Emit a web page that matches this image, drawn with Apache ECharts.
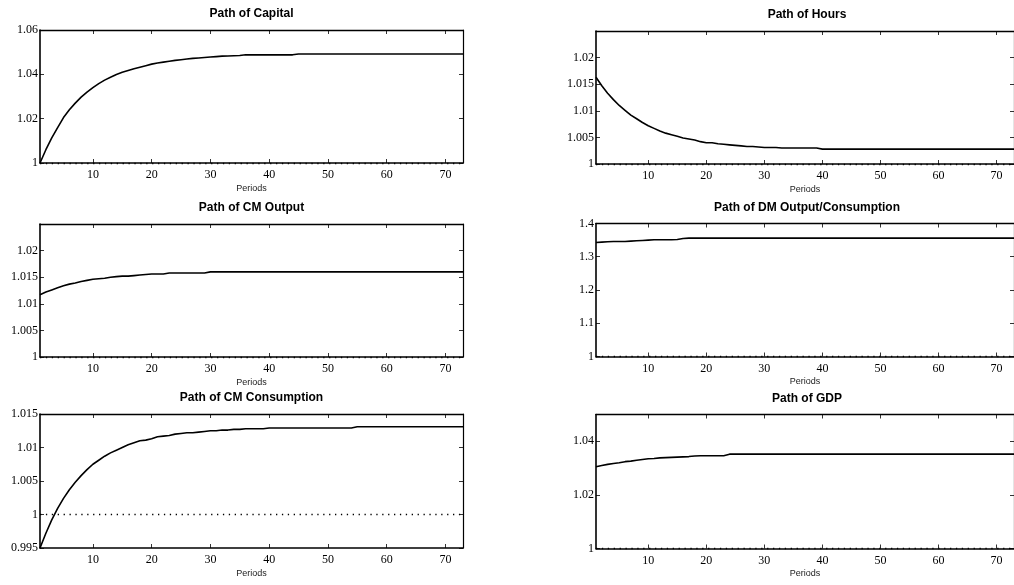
<!DOCTYPE html>
<html><head><meta charset="utf-8">
<script src="https://cdn.jsdelivr.net/npm/echarts@6/dist/echarts.min.js"></script>
<style>html,body{margin:0;padding:0;background:#fff}#c{width:1014px;height:585px}</style>
</head><body><div id="c"></div>
<script>
const periods = Array.from({length: 73}, (_, i) => i + 1);
const xTickLabels = [10, 20, 30, 40, 50, 60, 70];

const titles = ['Path of Capital', 'Path of Hours', 'Path of CM Output', 'Path of DM Output/Consumption', 'Path of CM Consumption', 'Path of GDP'];
const xName = 'Periods';

const capital = [1.0000,1.0060,1.0113,1.0160,1.0205,1.0240,1.0270,1.0297,1.0320,1.0340,1.0358,1.0374,1.0387,1.0399,1.0409,1.0417,1.0425,1.0432,1.0439,1.0446,1.0451,1.0455,1.0459,1.0463,1.0466,1.0469,1.0472,1.0474,1.0476,1.0478,1.0480,1.0482,1.0483,1.0484,1.0485,1.0488,1.0488,1.0488,1.0488,1.0488,1.0488,1.0488,1.0488,1.0488,1.0492,1.0492,1.0492,1.0492,1.0492,1.0492,1.0492,1.0492,1.0492,1.0492,1.0492,1.0492,1.0492,1.0492,1.0492,1.0492,1.0492,1.0492,1.0492,1.0492,1.0492,1.0492,1.0492,1.0492,1.0492,1.0492,1.0492,1.0492,1.0492];
const hours = [1.0163,1.0147,1.0133,1.0121,1.0110,1.0101,1.0092,1.0085,1.0078,1.0072,1.0067,1.0062,1.0058,1.0055,1.0052,1.0049,1.0047,1.0045,1.0042,1.0040,1.0040,1.0038,1.0037,1.0036,1.0035,1.0034,1.0033,1.0033,1.0032,1.0031,1.0031,1.0031,1.0030,1.0030,1.0030,1.0030,1.0030,1.0030,1.0030,1.0028,1.0028,1.0028,1.0028,1.0028,1.0028,1.0028,1.0028,1.0028,1.0028,1.0028,1.0028,1.0028,1.0028,1.0028,1.0028,1.0028,1.0028,1.0028,1.0028,1.0028,1.0028,1.0028,1.0028,1.0028,1.0028,1.0028,1.0028,1.0028,1.0028,1.0028,1.0028,1.0028,1.0028];
const cmOutput = [1.0117,1.0122,1.0126,1.0130,1.0134,1.0137,1.0139,1.0142,1.0144,1.0146,1.0147,1.0148,1.0150,1.0151,1.0152,1.0152,1.0153,1.0154,1.0155,1.0156,1.0156,1.0156,1.0158,1.0158,1.0158,1.0158,1.0158,1.0158,1.0158,1.0160,1.0160,1.0160,1.0160,1.0160,1.0160,1.0160,1.0160,1.0160,1.0160,1.0160,1.0160,1.0160,1.0160,1.0160,1.0160,1.0160,1.0160,1.0160,1.0160,1.0160,1.0160,1.0160,1.0160,1.0160,1.0160,1.0160,1.0160,1.0160,1.0160,1.0160,1.0160,1.0160,1.0160,1.0160,1.0160,1.0160,1.0160,1.0160,1.0160,1.0160,1.0160,1.0160,1.0160];
const dmOutput = [1.343,1.344,1.345,1.346,1.346,1.346,1.347,1.348,1.349,1.350,1.351,1.351,1.351,1.351,1.352,1.355,1.356,1.356,1.356,1.356,1.356,1.356,1.356,1.356,1.356,1.356,1.356,1.356,1.356,1.356,1.356,1.356,1.356,1.356,1.356,1.356,1.356,1.356,1.356,1.356,1.356,1.356,1.356,1.356,1.356,1.356,1.356,1.356,1.356,1.356,1.356,1.356,1.356,1.356,1.356,1.356,1.356,1.356,1.356,1.356,1.356,1.356,1.356,1.356,1.356,1.356,1.356,1.356,1.356,1.356,1.356,1.356,1.356];
const cmConsumption = [0.9950,0.9972,0.9992,1.0009,1.0024,1.0037,1.0048,1.0058,1.0067,1.0075,1.0081,1.0087,1.0092,1.0096,1.0100,1.0104,1.0107,1.0110,1.0111,1.0113,1.0116,1.0117,1.0118,1.0120,1.0121,1.0122,1.0122,1.0123,1.0124,1.0125,1.0125,1.0126,1.0126,1.0127,1.0127,1.0128,1.0128,1.0128,1.0128,1.0129,1.0129,1.0129,1.0129,1.0129,1.0129,1.0129,1.0129,1.0129,1.0129,1.0129,1.0129,1.0129,1.0129,1.0129,1.0131,1.0131,1.0131,1.0131,1.0131,1.0131,1.0131,1.0131,1.0131,1.0131,1.0131,1.0131,1.0131,1.0131,1.0131,1.0131,1.0131,1.0131,1.0131];
const gdp = [1.0305,1.0310,1.0314,1.0317,1.0320,1.0324,1.0326,1.0329,1.0332,1.0335,1.0336,1.0338,1.0339,1.0340,1.0341,1.0342,1.0343,1.0345,1.0346,1.0346,1.0346,1.0346,1.0346,1.0352,1.0352,1.0352,1.0352,1.0352,1.0352,1.0352,1.0352,1.0352,1.0352,1.0352,1.0352,1.0352,1.0352,1.0352,1.0352,1.0352,1.0352,1.0352,1.0352,1.0352,1.0352,1.0352,1.0352,1.0352,1.0352,1.0352,1.0352,1.0352,1.0352,1.0352,1.0352,1.0352,1.0352,1.0352,1.0352,1.0352,1.0352,1.0352,1.0352,1.0352,1.0352,1.0352,1.0352,1.0352,1.0352,1.0352,1.0352,1.0352,1.0352];

const seriesList = [capital, hours, cmOutput, dmOutput, cmConsumption, gdp];
const yMin = [1, 1, 1, 1, 0.995, 1];
const yMax = [1.06, 1.025, 1.025, 1.4, 1.015, 1.05];
const yStep = [0.02, 0.005, 0.005, 0.1, 0.005, 0.02];
const yShowMax = [true, false, false, true, true, false];
const refLevel = 1;

const grids = [
  {left: 40, top: 30, width: 423, height: 133},
  {left: 596, top: 31, width: 422, height: 133},
  {left: 40, top: 224, width: 423, height: 133},
  {left: 596, top: 223.5, width: 422, height: 133},
  {left: 40, top: 414, width: 423, height: 134},
  {left: 596, top: 414.5, width: 422, height: 134}
];

const tickShow = (i, v) => xTickLabels.indexOf(Number(v)) >= 0;
const lineC = '#000';
const serif = 'Liberation Serif';

const option = {
  animation: false,
  backgroundColor: '#fff',
  title: [], grid: [], xAxis: [], yAxis: [], series: []
};

grids.forEach((g, i) => {
  option.grid.push(Object.assign({containLabel: false}, g));
  option.title.push({
    text: titles[i], left: g.left + g.width / 2, top: g.top - 22, textAlign: 'center', padding: 0,
    textStyle: {fontFamily: 'Liberation Sans', fontSize: 12, fontWeight: 'bold', color: '#000'}
  });
  option.xAxis.push({
    type: 'category', data: periods, gridIndex: i, boundaryGap: false, position: 'bottom',
    name: xName, nameLocation: 'middle', nameGap: 21,
    nameTextStyle: {fontFamily: 'Liberation Sans', fontSize: 9, color: '#222'},
    axisLine: {lineStyle: {color: lineC, width: 1.5}},
    axisTick: {inside: true, length: 4, interval: tickShow, lineStyle: {color: lineC, width: 0.8}},
    axisLabel: {interval: tickShow, margin: 6, fontFamily: serif, fontSize: 12, color: '#000'},
    splitLine: {show: false}
  });
  option.xAxis.push({
    type: 'category', data: periods, gridIndex: i, boundaryGap: false, position: 'top',
    axisLine: {lineStyle: {color: lineC, width: 1.4}},
    axisTick: {inside: true, length: 4, interval: tickShow, lineStyle: {color: lineC, width: 0.8}},
    axisLabel: {show: false}, splitLine: {show: false}
  });
  option.yAxis.push({
    type: 'value', gridIndex: i, min: yMin[i], max: yMax[i], interval: yStep[i], position: 'left',
    axisLine: {show: true, lineStyle: {color: lineC, width: 1.6}},
    axisTick: {show: true, inside: true, length: 4, lineStyle: {color: lineC, width: 0.8}},
    axisLabel: {margin: 2, showMaxLabel: yShowMax[i], fontFamily: serif, fontSize: 12, color: '#000'},
    splitLine: {show: false}
  });
  option.yAxis.push({
    type: 'value', gridIndex: i, min: yMin[i], max: yMax[i], interval: yStep[i], position: 'right',
    axisLine: {show: true, lineStyle: {color: lineC, width: 1.2}},
    axisTick: {show: true, inside: true, length: 4, lineStyle: {color: lineC, width: 0.8}},
    axisLabel: {show: false}, splitLine: {show: false}
  });
  option.series.push({
    type: 'line', data: seriesList[i], xAxisIndex: 2 * i, yAxisIndex: 2 * i,
    showSymbol: false, symbol: 'none', silent: true,
    lineStyle: {color: '#000', width: 1.6},
    markLine: {
      silent: true, symbol: ['none', 'none'], label: {show: false},
      lineStyle: {color: '#000', width: 1.3, type: [1.3, 4.6]},
      data: [{yAxis: refLevel}]
    }
  });
});

const chart = echarts.init(document.getElementById('c'), null, {renderer: 'canvas'});
chart.setOption(option);
</script>
</body></html>
